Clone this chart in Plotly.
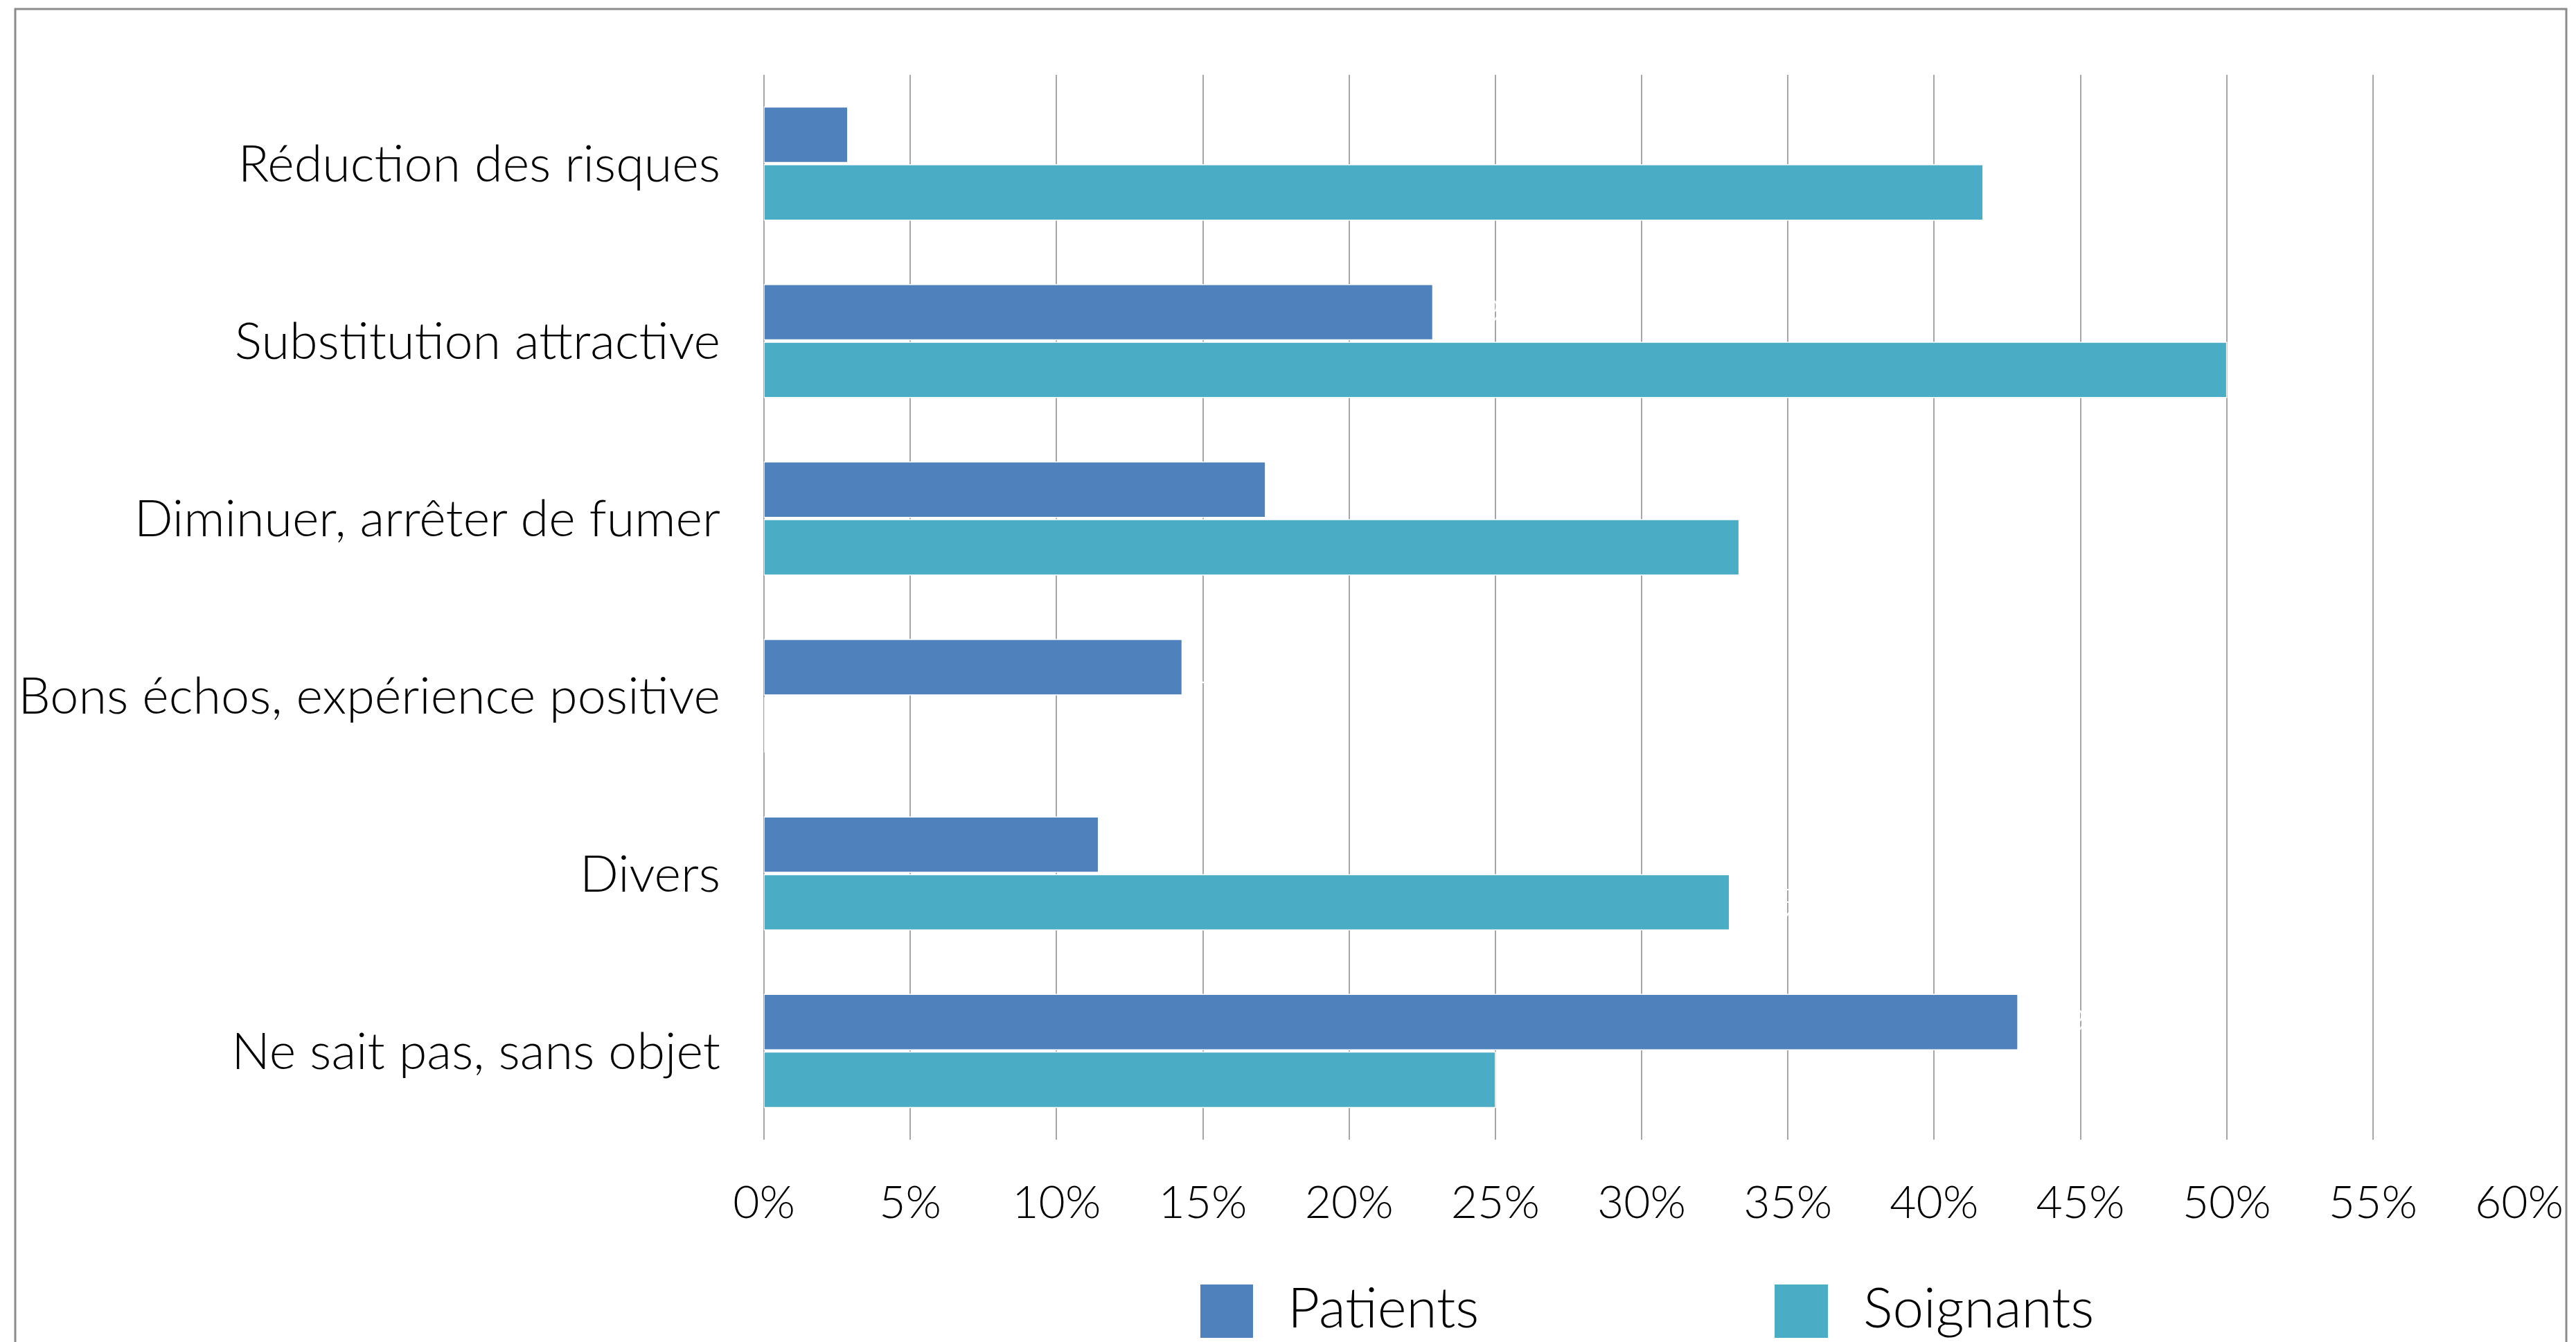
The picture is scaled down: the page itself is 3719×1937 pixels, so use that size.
import plotly.graph_objects as go

categories = [
    "Réduction des risques",
    "Substitution attractive",
    "Diminuer, arrêter de fumer",
    "Bons échos, expérience positive",
    "Divers",
    "Ne sait pas, sans objet",
]
patients = [0.0286, 0.2286, 0.1714, 0.1429, 0.1143, 0.4286]
soignants = [0.4167, 0.50, 0.3333, 0.0, 0.3300, 0.25]
series_names = ["Patients", "Soignants"]
tick_values = [i * 0.05 for i in range(13)]
tick_labels = [f"{i*5}%" for i in range(13)]

COL_P = "#4F81BD"
COL_S = "#4BACC6"
FONT = "Lato"

W, H = 3719, 1937
L, R, T, B = 1103, 82, 108, 292
PW, PH = W - L - R, H - T - B


def px_x(x):
    return (x - L) / PW


def px_y(y):
    return (H - B - y) / PH


def lab(vals):
    return [f"{v*100:.0f}%" if v > 0 else "" for v in vals]


fig = go.Figure()
for name, vals, col in [(series_names[0], patients, COL_P), (series_names[1], soignants, COL_S)]:
    fig.add_trace(go.Bar(
        y=categories, x=vals, name=name, orientation="h",
        marker=dict(color=col, line=dict(color="white", width=1.5)),
        text=lab(vals), textposition="outside",
        textfont=dict(color="white", size=60, family=FONT),
        cliponaxis=False, showlegend=False,
    ))

fig.update_layout(
    width=W, height=H,
    margin=dict(l=L, r=R, t=T, b=B, pad=0),
    paper_bgcolor="white", plot_bgcolor="white",
    barmode="group", bargap=0.35, bargroupgap=0.04,
    font=dict(family=FONT, color="black", size=70, weight=300),
    xaxis=dict(
        range=[0, 0.6], tickvals=tick_values, ticktext=tick_labels,
        showgrid=True, gridcolor="#a6a6a6", gridwidth=2,
        zeroline=True, zerolinecolor="#a6a6a6", zerolinewidth=2,
        showline=False, ticks="", ticklabelstandoff=46,
        tickfont=dict(size=66, family=FONT, color="black", weight=300),
        fixedrange=True,
    ),
    yaxis=dict(
        autorange="reversed", showgrid=False, zeroline=False, showline=False,
        ticks="", ticklabelstandoff=62,
        tickfont=dict(size=73.7, family=FONT, color="black", weight=300),
        fixedrange=True,
    ),
)

shapes = []
# outer frame
shapes.append(dict(type="rect", xref="paper", yref="paper",
                   x0=px_x(22), x1=px_x(3705), y0=px_y(1990), y1=px_y(13),
                   line=dict(color="#8c8c8c", width=3), fillcolor="rgba(0,0,0,0)", layer="below"))
# legend swatches
for (x0, x1), col in [((1733, 1809), COL_P), ((2562, 2639), COL_S)]:
    shapes.append(dict(type="rect", xref="paper", yref="paper",
                       x0=px_x(x0), x1=px_x(x1), y0=px_y(1931), y1=px_y(1854),
                       line=dict(width=0), fillcolor=col))
fig.update_layout(shapes=shapes)

for xleft, name in [(1857, series_names[0]), (2688, series_names[1])]:
    fig.add_annotation(xref="paper", yref="paper", x=px_x(xleft), y=px_y(1885),
                       text=name, showarrow=False, xanchor="left", yanchor="middle",
                       font=dict(size=80, family=FONT, color="black", weight=300))

fig.write_html("out.html")
